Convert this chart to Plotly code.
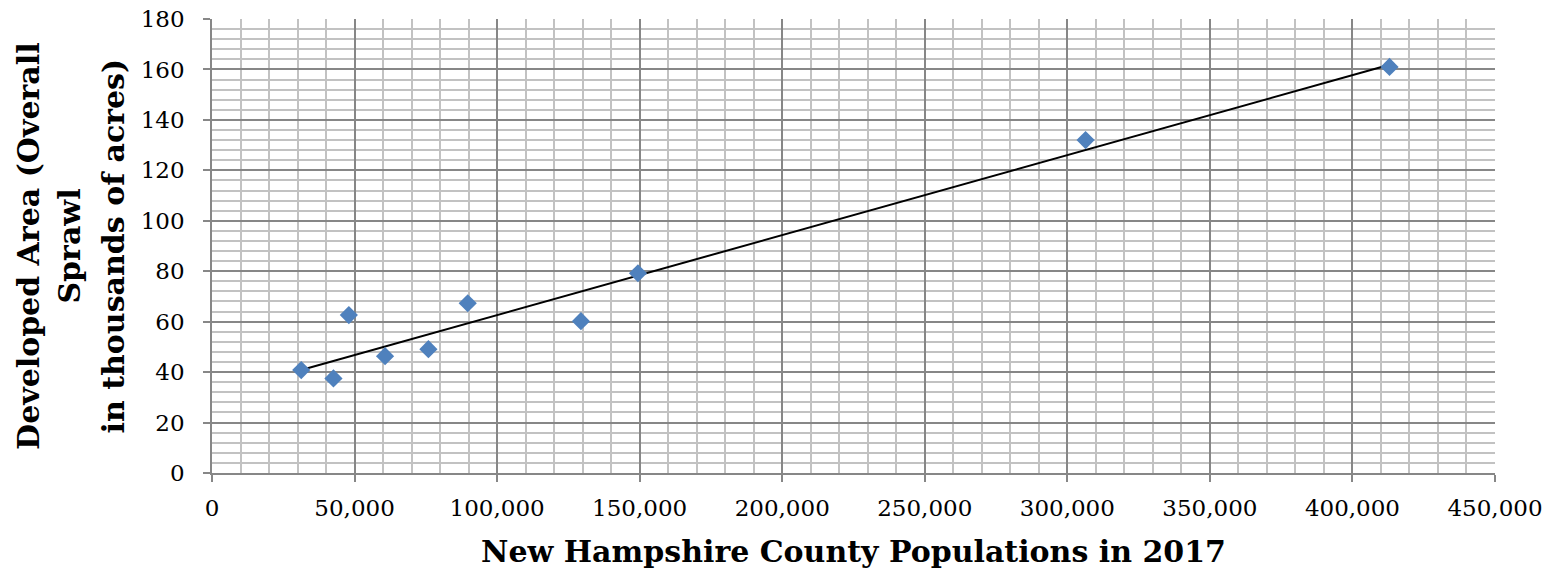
import numpy as np
import plotly.graph_objects as go

# New Hampshire counties, 2017
populations = [31300, 42600, 48000, 60700, 75900, 89700, 129400, 149400, 306400, 413000]
developed_area = [40.8, 37.5, 62.6, 46.3, 49.1, 67.3, 60.2, 79.2, 132.0, 161.0]

x_title = "New Hampshire County Populations in 2017"
y_title_lines = ["Developed Area (Overall", "Sprawl", "in thousands of acres)"]

# linear trendline fitted to the data
slope, intercept = np.polyfit(populations, developed_area, 1)
trend_x = [min(populations), max(populations)]
trend_y = [slope * v + intercept for v in trend_x]

TICK_FONT = dict(family="DejaVu Serif", size=23, color="black")
TITLE_FONT = dict(family="DejaVu Serif", size=30, color="black")
MAJOR = "#878787"
MINOR = "#c2c2c2"

fig = go.Figure()
fig.add_trace(go.Scatter(
    x=trend_x, y=trend_y, mode="lines",
    line=dict(color="black", width=2), showlegend=False, hoverinfo="skip"))
fig.add_trace(go.Scatter(
    x=populations, y=developed_area, mode="markers",
    marker=dict(symbol="diamond", size=14, color="#4F81BD"),
    showlegend=False))

annotations = [
    dict(text="<b>" + x_title + "</b>", xref="paper", yref="paper",
         x=0.5, y=-0.174, xanchor="center", yanchor="middle",
         showarrow=False, font=TITLE_FONT),
]
y_title_x = [-0.1435, -0.1118, -0.0768]
for line, px in zip(y_title_lines, y_title_x):
    annotations.append(dict(
        text="<b>" + line + "</b>", xref="paper", yref="paper",
        x=px, y=0.5, xanchor="center", yanchor="middle",
        textangle=-90, showarrow=False, font=TITLE_FONT))

fig.update_layout(
    width=1555, height=574,
    margin=dict(l=212, r=60, t=19, b=101, pad=0),
    paper_bgcolor="white", plot_bgcolor="white",
    xaxis=dict(
        range=[0, 450000], dtick=50000, tick0=0, tickformat=",d",
        showgrid=True, gridcolor=MAJOR, gridwidth=1.5,
        minor=dict(dtick=10000, showgrid=True, gridcolor=MINOR, gridwidth=1.5, ticks=""),
        showline=True, linecolor=MAJOR, linewidth=1.5,
        ticks="outside", ticklen=7, tickcolor=MAJOR, tickwidth=1.5,
        ticklabelstandoff=7, ticklabeloverflow="allow",
        zeroline=False, tickfont=TICK_FONT, automargin=False),
    yaxis=dict(
        range=[0, 180], dtick=20, tick0=0,
        showgrid=True, gridcolor=MAJOR, gridwidth=1.5,
        minor=dict(dtick=4, showgrid=True, gridcolor=MINOR, gridwidth=1.5, ticks=""),
        showline=True, linecolor=MAJOR, linewidth=1.5,
        ticks="outside", ticklen=7, tickcolor=MAJOR, tickwidth=1.5,
        ticklabelstandoff=14, ticklabeloverflow="allow",
        zeroline=False, tickfont=TICK_FONT, automargin=False),
    annotations=annotations,
)

# remove the default page margin so the figure fills the window exactly
fig.write_html("out.html", config={"displayModeBar": False},
               post_script="document.body.style.margin='0';")
